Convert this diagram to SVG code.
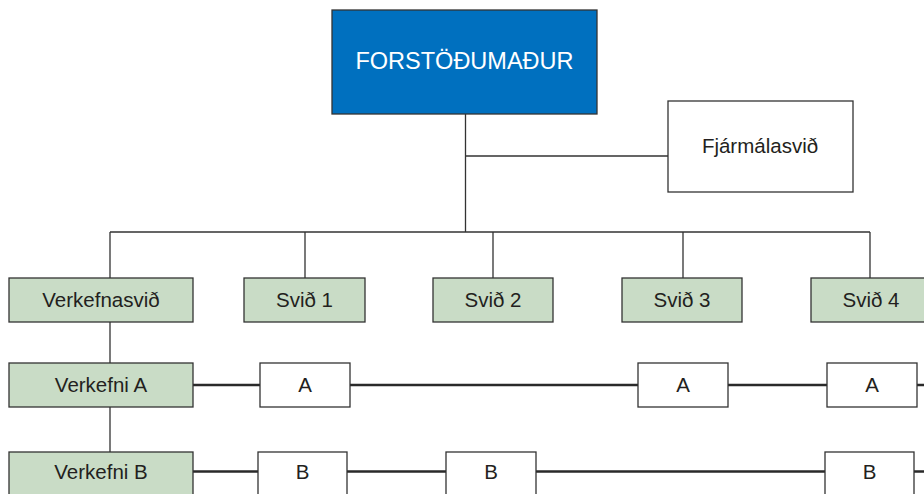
<svg xmlns="http://www.w3.org/2000/svg" width="924" height="494" viewBox="0 0 924 494">
<style>
text{font-family:"Liberation Sans",Arial,sans-serif;font-size:20.5px;fill:#231f20;text-anchor:middle}
.box{stroke:#333;stroke-width:1.3}
.g{fill:#c9dcc6}
.w{fill:#fff}
.thin{stroke:#333;stroke-width:1.3;fill:none}
.thick{stroke:#2a2a2a;stroke-width:2.6;fill:none}
</style>
<rect width="924" height="494" fill="#fff"/>
<g id="connectors">
<path class="thin" d="M465.5 114V232M465.5 156H668M110 232H870M110 232V278M305 232V278M493 232V278M683 232V278M870 232V278M110 322V363M110 407V452"/>
<path class="thick" d="M193 385H260M350 385H638M728 385H827M917 385H924M193 471.5H258M347 471.5H446M536 471.5H825M914 471.5H924"/>
</g>
<g id="forstodumadur"><rect class="box" x="332" y="10" width="265" height="104" fill="#0070bf"/><text x="464.5" y="69" style="fill:#fff;font-size:23.5px">FORSTÖÐUMAÐUR</text></g>
<g id="fjarmalasvid"><rect class="box w" x="668" y="101" width="185" height="91"/><text x="760" y="153">Fjármálasvið</text></g>
<g id="verkefnasvid"><rect class="box g" x="9" y="278" width="184" height="44"/><text x="101" y="307">Verkefnasvið</text></g>
<g id="svid1"><rect class="box g" x="244" y="278" width="121" height="44"/><text x="304.5" y="307">Svið 1</text></g>
<g id="svid2"><rect class="box g" x="433" y="278" width="120" height="44"/><text x="493" y="307">Svið 2</text></g>
<g id="svid3"><rect class="box g" x="622" y="278" width="120" height="44"/><text x="682" y="307">Svið 3</text></g>
<g id="svid4"><rect class="box g" x="811" y="278" width="121" height="44"/><text x="871" y="307">Svið 4</text></g>
<g id="verkefniA"><rect class="box g" x="9" y="363" width="184" height="44"/><text x="101" y="392">Verkefni A</text></g>
<g id="a1"><rect class="box w" x="260" y="363" width="90" height="44"/><text x="305" y="392">A</text></g>
<g id="a2"><rect class="box w" x="638" y="363" width="90" height="44"/><text x="683" y="392">A</text></g>
<g id="a3"><rect class="box w" x="827" y="363" width="90" height="44"/><text x="872" y="392">A</text></g>
<g id="verkefniB"><rect class="box g" x="9" y="452" width="184" height="50"/><text x="101" y="479">Verkefni B</text></g>
<g id="b1"><rect class="box w" x="258" y="452" width="89" height="50"/><text x="302.5" y="479">B</text></g>
<g id="b2"><rect class="box w" x="446" y="452" width="90" height="50"/><text x="491" y="479">B</text></g>
<g id="b3"><rect class="box w" x="825" y="452" width="89" height="50"/><text x="869.5" y="479">B</text></g>
</svg>
